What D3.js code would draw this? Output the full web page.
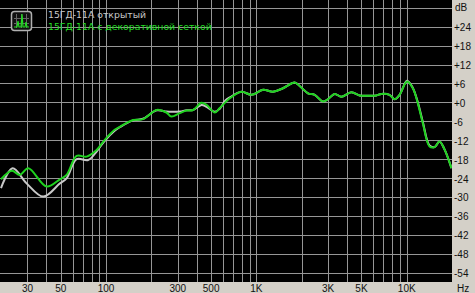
<!DOCTYPE html>
<html><head><meta charset="utf-8">
<script src="https://cdn.jsdelivr.net/npm/d3@7"></script>
<style>
html,body{margin:0;padding:0;background:#d4d0c8;}
svg{display:block;}
</style></head>
<body>
<svg id="c" width="475" height="293"></svg>
<script>
// Series 1: "15ГД-11А открытый"
const freqOpen = [20, 23.9, 29.6, 38.2, 49.3, 54.6, 63.7, 76, 86.5, 96.7, 114, 124, 151, 176, 217, 252, 272, 309, 343, 379, 431, 466, 529, 570, 622, 665, 795, 927, 1107, 1290, 1502, 1797, 1940, 2203, 2441, 2770, 2990, 3313, 3671, 4278, 4856, 5514, 6272, 6770, 7686, 8298, 8958, 10048, 10978, 11852, 12794, 14178, 15300, 16514, 17836, 19848];
const dbOpen   = [-27.2, -20.9, -25.7, -29.9, -25.7, -24.1, -18.0, -18.3, -15.6, -12.5, -9.0, -7.8, -5.7, -5.2, -2.5, -2.9, -3.0, -2.9, -2.5, -2.4, -0.8, -1.4, -3.0, -2.0, 0.6, 1.6, 3.4, 2.4, 4.0, 3.4, 4.5, 6.3, 5.2, 2.9, 2.4, 0.3, 1.0, 2.7, 1.8, 3.2, 2.2, 2.1, 2.2, 2.7, 2.4, 1.0, 2.4, 6.9, 4.6, 0.0, -6.2, -13.7, -14.2, -12.4, -14.9, -20.9];
// Series 2: "15ГД-11А с декоративной сеткой"
const freqGrille = [20, 23.6, 26.7, 30.4, 40.2, 49.3, 54.6, 63.7, 74.2, 86.5, 96.7, 114, 124, 151, 176, 217, 252, 272, 309, 343, 379, 431, 466, 529, 570, 665, 795, 927, 1107, 1290, 1502, 1797, 1940, 2203, 2441, 2770, 2990, 3313, 3671, 4278, 4856, 5514, 6272, 6770, 7686, 8298, 8958, 10048, 10978, 11852, 12794, 14178, 15300, 16514, 17836, 19848];
const dbGrille   = [-24.4, -21.7, -23.0, -20.9, -26.7, -24.4, -23.0, -17.0, -17.2, -15.1, -12.2, -8.7, -7.7, -5.6, -5.3, -2.4, -3.2, -4.5, -3.4, -2.6, -2.4, -0.1, -0.8, -3.2, -1.8, 1.3, 3.4, 2.4, 4.0, 3.4, 4.5, 6.3, 5.2, 2.9, 2.4, 0.3, 1.0, 2.7, 1.8, 3.2, 2.2, 2.1, 2.2, 2.7, 2.4, 1.0, 2.4, 6.6, 4.5, -0.3, -6.6, -14.0, -14.2, -12.4, -14.9, -20.9];

const seriesNames = ["15ГД-11А открытый", "15ГД-11А с декоративной сеткой"];
const yTicks = [24, 18, 12, 6, 0, -6, -12, -18, -24, -30, -36, -42, -48, -54];
const yGridTicks = [30, 24, 18, 12, 6, 0, -6, -12, -18, -24, -30, -36, -42, -48, -54];
const xTicks = [30, 50, 100, 300, 500, 1000, 3000, 5000, 10000];
const xTickLabels = ["30", "50", "100", "300", "500", "1K", "3K", "5K", "10K"];

const AX_FONT = "'Liberation Sans',Arial,sans-serif";
const LG_FONT = "'DejaVu Sans',Verdana,sans-serif";

const svg = d3.select("#c");
const W = 452, H = 282;
const x = d3.scaleLog().domain([20, 20000]).range([1, 452]);
const y = d3.scaleLinear().domain([-57, 32.5]).range([282, 0]);

svg.append("rect").attr("x",0).attr("y",0).attr("width",475).attr("height",293).attr("fill","#d4d0c8");
svg.append("rect").attr("x",0).attr("y",0).attr("width",W).attr("height",H).attr("fill","#000");

svg.append("clipPath").attr("id","clip").append("rect").attr("width",W).attr("height",H);
const plot = svg.append("g").attr("clip-path","url(#clip)");

// grid
const vGrid = [];
[10,100,1000,10000].forEach(d => { for (let m=1;m<=9;m++){ const f=d*m; if (f>20 && f<20000) vGrid.push(f);} });
plot.selectAll("line.v").data(vGrid).join("line")
  .attr("x1",d=>Math.round(x(d))+0.5).attr("x2",d=>Math.round(x(d))+0.5)
  .attr("y1",0).attr("y2",H).attr("stroke","#969696").attr("stroke-width",1);
plot.selectAll("line.h").data(yGridTicks).join("line")
  .attr("y1",d=>Math.round(y(d))+0.5).attr("y2",d=>Math.round(y(d))+0.5)
  .attr("x1",0).attr("x2",W).attr("stroke","#969696").attr("stroke-width",1);

const line = d3.line().x(d=>x(d[0])).y(d=>y(d[1])).curve(d3.curveCatmullRom.alpha(0.5));
plot.append("path").datum(d3.zip(freqOpen, dbOpen)).attr("d",line)
  .attr("fill","none").attr("stroke","#c8c8c8").attr("stroke-width",2);
plot.append("path").datum(d3.zip(freqGrille, dbGrille)).attr("d",line)
  .attr("fill","none").attr("stroke","#1ed21e").attr("stroke-width",2);

// legend
const lg = svg.append("g");
lg.append("rect").attr("x",11.5).attr("y",11.5).attr("width",20).attr("height",19).attr("rx",3)
  .attr("fill","#111").attr("stroke","#b0b0b0").attr("stroke-width",1.5);
[16,21,26].forEach(v=>lg.append("line").attr("x1",v+0.5).attr("x2",v+0.5).attr("y1",14).attr("y2",28).attr("stroke","#666"));
[18,23].forEach(v=>lg.append("line").attr("y1",v+0.5).attr("y2",v+0.5).attr("x1",14).attr("x2",29).attr("stroke","#666"));
lg.append("path").attr("d","M14,27 L17,27 L18,21 L19,27 L21,27 L22,14 L23,27 L25,27 L26,22 L27,27 L29,27")
  .attr("fill","none").attr("stroke","#22dd22").attr("stroke-width",1.2);
lg.append("text").attr("x",48).attr("y",17.5).style("font-family",LG_FONT).style("font-size","9.3px").attr("fill","#c8c8c8").text(seriesNames[0]);
lg.append("text").attr("x",48).attr("y",30).style("font-family",LG_FONT).style("font-size","9.3px").attr("fill","#22dd22").text(seriesNames[1]);

// right axis labels
svg.selectAll("text.yl").data(yTicks).join("text").attr("class","yl")
  .attr("x",454).attr("y",d=>y(d)+4.5).style("font-family",AX_FONT).style("font-size","10px").attr("fill","#111")
  .text(d=> d>=0 ? "+"+d : String(d));
svg.append("text").attr("x",455).attr("y",11).style("font-family",AX_FONT).style("font-size","10px").attr("fill","#111").text("dB");
// bottom labels
svg.selectAll("text.xl").data(xTicks).join("text").attr("class","xl")
  .attr("x",d=>x(d)).attr("y",292).attr("text-anchor","middle").style("font-family",AX_FONT).style("font-size","10px").attr("fill","#111")
  .text((d,i)=>xTickLabels[i]);
svg.append("text").attr("x",457).attr("y",292).style("font-family",AX_FONT).style("font-size","10px").attr("fill","#111").text("Hz");
</script>
</body></html>
